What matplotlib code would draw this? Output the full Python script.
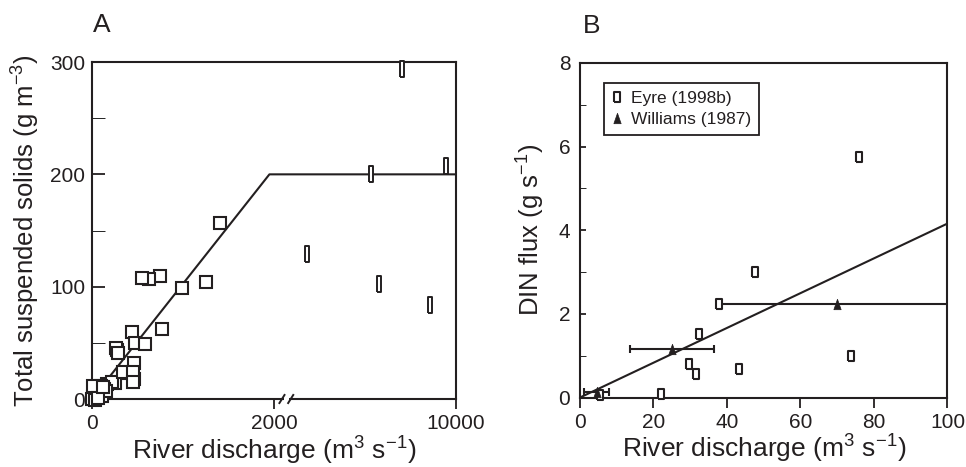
import numpy as np
import matplotlib
matplotlib.use('Agg')
import matplotlib.pyplot as plt
from matplotlib.ticker import MultipleLocator, FixedLocator, NullFormatter
from matplotlib.lines import Line2D

plt.rcParams['font.family'] = ['Liberation Sans', 'DejaVu Sans']
plt.rcParams['mathtext.fontset'] = 'custom'
plt.rcParams['mathtext.rm'] = 'Liberation Sans'
plt.rcParams['mathtext.it'] = 'Liberation Sans:italic'
ink = '#231f20'

# ---- panel A data: total suspended solids vs discharge ----
tss_q = [1407, 991, 1249, 744, 622, 549, 770, 439, 475, 586, 273, 262, 285,
         464, 365, 464, 254, 162, 218, 343, 453, 453,
         10, 20, 30, 40, 55, 65, 80, 95, 110, 130, 150, 15, 5, 35, 70, 120]
tss_c = [157, 99, 104, 109.5, 107, 107.4, 62, 60, 49.6, 49, 43.6, 45, 41,
         32, 23, 18, 14, 13, 15, 24, 24, 15,
         2, 5, 3, 8, 4, 10, 6, 12, 3, 9, 7, 12, 0, -1, 1, 11]
flood_q = [3440, 6280, 6630, 7640, 8860, 9560]
flood_c = [129, 200, 102.4, 294, 83.4, 207.4]
fitA_q = [0, 1950, 10000]
fitA_c = [0, 200, 200]

# ---- panel B data: DIN flux vs discharge ----
eyre_q = [47.6, 37.7, 32.5, 29.7, 31.5, 43.4, 22.0, 5.5, 76.0, 73.7]
eyre_f = [2.99, 2.24, 1.51, 0.80, 0.57, 0.69, 0.09, 0.05, 5.76, 1.00]
will_q = [4.5, 25.0, 70.0]
will_f = [0.12, 1.15, 2.24]
will_qerr = [3.3, 11.5, 32.0]
fitB_q = [0, 100]
fitB_f = [0, 4.16]


def fwd(x):
    x = np.asarray(x, float)
    return np.where(x <= 2000, x / 2000, 1 + (x - 2000) / 8000)


def inv(u):
    u = np.asarray(u, float)
    return np.where(u <= 1, u * 2000, 2000 + (u - 1) * 8000)


narrow = [(-0.27, -1), (0.27, -1), (0.27, 1), (-0.27, 1), (-0.27, -1)]
rect = [(-0.65, -1), (0.65, -1), (0.65, 1), (-0.65, 1), (-0.65, -1)]
tri = [(-0.7, -1), (0.7, -1), (0, 1), (-0.7, -1)]

fig = plt.figure(figsize=(9.66, 4.67), dpi=100)
axA = fig.add_axes([0.0952, 0.1456, 0.3768, 0.7216])
axB = fig.add_axes([0.6004, 0.1488, 0.3804, 0.7163])

for ax in (axA, axB):
    for s in ax.spines.values():
        s.set_linewidth(1.5)
        s.set_color(ink)
    ax.tick_params(colors=ink, labelsize=15, width=1.3)

# panel A
axA.set_xscale('function', functions=(fwd, inv))
axA.set_xlim(0, 10000)
axA.set_ylim(0, 300)
axA.plot(fitA_q, fitA_c, color=ink, lw=1.5, zorder=3)
axA.plot(tss_q, tss_c, 's', ms=8, mfc='white', mec=ink, mew=1.5,
         clip_on=False, zorder=4)
axA.plot(flood_q, flood_c, marker=narrow, ls='none', ms=11, mfc='white',
         mec=ink, mew=1.4, clip_on=False, zorder=4)
axA.set_xticks([0, 2000, 10000])
axA.set_xticklabels(['0', '2000', '10000'])
axA.xaxis.set_minor_locator(FixedLocator([]))
axA.yaxis.set_major_locator(MultipleLocator(100))
axA.yaxis.set_minor_locator(MultipleLocator(50))
axA.yaxis.set_minor_formatter(NullFormatter())
axA.tick_params(axis='y', which='both', direction='in', length=9, pad=5)
axA.tick_params(axis='x', direction='out', length=7, pad=4)
axA.set_xlabel('River discharge (m$^{3}$ s$^{-1}$)', fontsize=19, color=ink,
               labelpad=1)
axA.set_ylabel('Total suspended solids (g m$^{-3}$)', fontsize=18.5, color=ink,
               labelpad=6)
axA.text(0.003, 1.075, 'A', transform=axA.transAxes, fontsize=19, color=ink,
         va='bottom', ha='left')

# axis break on the bottom spine
axA.fill_between([0.527, 0.541], [-0.01, -0.01], [0.01, 0.01],
                 transform=axA.transAxes, color='white', clip_on=False,
                 zorder=5, lw=0)
for xb in (0.522, 0.546):
    axA.plot([xb - 0.007, xb + 0.007], [-0.012, 0.012], color=ink, lw=1.4,
             transform=axA.transAxes, clip_on=False, zorder=6)

# panel B
axB.set_xlim(0, 100)
axB.set_ylim(0, 8)
axB.plot(fitB_q, fitB_f, color=ink, lw=1.5, zorder=3)
axB.errorbar(will_q, will_f, xerr=will_qerr, fmt='none', ecolor=ink,
             elinewidth=1.5, capsize=3, capthick=1.5, zorder=3)
axB.plot(eyre_q, eyre_f, marker=rect, ls='none', ms=7, mfc='white', mec=ink,
         mew=1.5, clip_on=False, zorder=4)
axB.plot(will_q, will_f, marker=tri, ls='none', ms=7.5, mfc=ink, mec=ink,
         mew=0.5, clip_on=False, zorder=5)
axB.xaxis.set_major_locator(MultipleLocator(20))
axB.yaxis.set_major_locator(MultipleLocator(2))
axB.yaxis.set_minor_locator(MultipleLocator(1))
axB.yaxis.set_minor_formatter(NullFormatter())
axB.tick_params(axis='y', which='both', direction='in', length=4, pad=7)
axB.tick_params(axis='x', direction='out', length=7, pad=4)
axB.set_xlabel('River discharge (m$^{3}$ s$^{-1}$)', fontsize=19, color=ink,
               labelpad=1)
axB.set_ylabel('DIN flux (g s$^{-1}$)', fontsize=18.5, color=ink, labelpad=8)
axB.text(0.008, 1.075, 'B', transform=axB.transAxes, fontsize=19, color=ink,
         va='bottom', ha='left')

handles = [Line2D([], [], marker=rect, ls='none', ms=7, mfc='white', mec=ink,
                  mew=1.5),
           Line2D([], [], marker=tri, ls='none', ms=7.5, mfc=ink, mec=ink,
                  mew=0.5)]
leg = axB.legend(handles, ['Eyre (1998b)', 'Williams (1987)'],
                 loc='upper left', bbox_to_anchor=(0.065, 0.94), fontsize=12.5,
                 handlelength=0.6, handletextpad=0.5, borderpad=0.45,
                 labelspacing=0.35, fancybox=False, framealpha=1,
                 borderaxespad=0)
leg.get_frame().set_edgecolor(ink)
leg.get_frame().set_linewidth(1.3)
for t in leg.get_texts():
    t.set_color(ink)

fig.savefig('out.png', dpi=100)
